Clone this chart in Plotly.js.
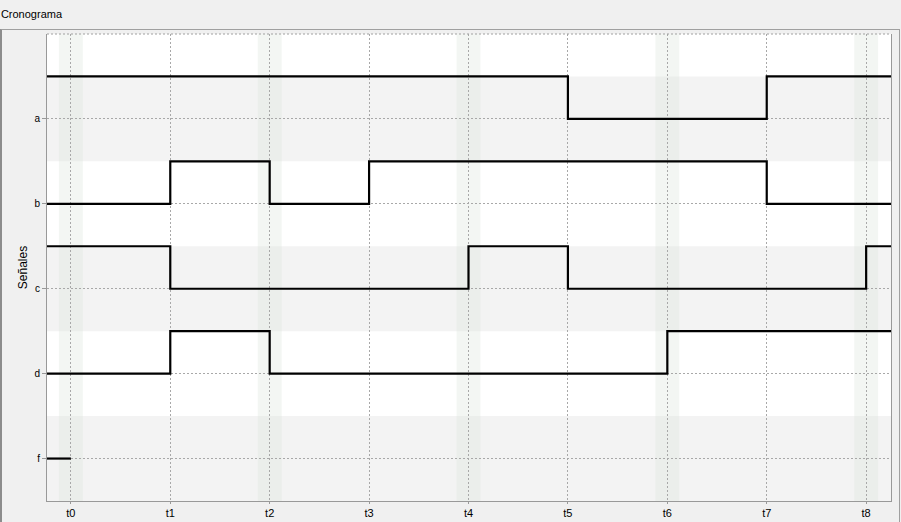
<!DOCTYPE html>
<html>
<head>
<meta charset="utf-8">
<script src="https://cdn.plot.ly/plotly-3.0.1.min.js"></script>
<style>
  html, body { margin: 0; padding: 0; background: #f0f0f0; }
  #wrap { position: relative; width: 901px; height: 522px; overflow: hidden; }
  #chart { position: absolute; left: 0; top: 0; width: 901px; height: 522px; }
  #frame { position: absolute; left: 0; top: 29px; width: 897px; height: 520px;
           border-top: 1px solid #a0a0a0; border-left: 2px solid #8c8c8c; border-right: 1px solid #a0a0a0;
           pointer-events: none; }
</style>
</head>
<body>
<div id="wrap">
  <div id="chart"></div>
  <div id="frame"></div>
</div>
<script>
// ---- data ----
const times = ["t0", "t1", "t2", "t3", "t4", "t5", "t6", "t7", "t8"];
const signalNames = ["a", "b", "c", "d", "f"];
const sigA = [1, 1, 1, 1, 1, 0, 0, 1, 1];
const sigB = [0, 1, 0, 1, 1, 1, 1, 0, 0];
const sigC = [1, 0, 0, 0, 1, 0, 0, 0, 1];
const sigD = [0, 1, 0, 0, 0, 0, 1, 1, 1];
const sigF = [0];
const signals = [sigA, sigB, sigC, sigD, sigF];

// ---- layout helpers ----
const xStart = -0.24, xEnd = 8.25;
const yMin = -0.5, yMax = 5.0;
const highOffset = 0.5;
const timeIdx = times.map((_, i) => i);
const levels = signalNames.map((_, i) => signalNames.length - 1 - i);

const traces = signals.map((vals, k) => {
  const base = levels[k];
  const xs = [xStart].concat(vals.map((_, i) => timeIdx[i]));
  const ys = [vals[0]].concat(vals).map(v => base + highOffset * v);
  if (vals.length === times.length) { xs.push(xEnd); ys.push(base + highOffset * vals[vals.length - 1]); }
  return {
    type: 'scatter', mode: 'lines', x: xs, y: ys, name: signalNames[k],
    line: { shape: 'hv', color: '#000000', width: 2.2 },
    hoverinfo: 'skip', showlegend: false, cliponaxis: false
  };
});

const shapes = [];
// horizontal row bands (alternating)
levels.forEach((lv, k) => {
  if (k % 2 === 0) {
    shapes.push({ type: 'rect', xref: 'paper', yref: 'y', x0: 0, x1: 1, y0: lv - 0.5, y1: lv + 0.5,
      fillcolor: '#f3f3f3', line: { width: 0 }, layer: 'below' });
  }
});
// vertical bands around even ticks
timeIdx.forEach((t, i) => {
  if (i % 2 === 0) {
    shapes.push({ type: 'rect', xref: 'x', yref: 'paper', x0: t - 0.12, x1: t + 0.12, y0: 0, y1: 1,
      fillcolor: 'rgba(220,228,220,0.35)', line: { width: 0 }, layer: 'below' });
  }
});
// dashed top border
shapes.push({ type: 'line', xref: 'paper', yref: 'paper', x0: 0, x1: 1, y0: 1, y1: 1,
  line: { color: '#a0a0a0', width: 1, dash: '2px,2px' } });

const gridStyle = { gridcolor: '#a8a8a8', gridwidth: 1, griddash: '2px,2px' };

const layout = {
  width: 901, height: 522,
  margin: { l: 47, r: 10, t: 34, b: 21 },
  paper_bgcolor: '#f0f0f0',
  plot_bgcolor: '#ffffff',
  title: { text: 'Cronograma', x: 0.001, xref: 'container', xanchor: 'left', y: 0.973, yref: 'container', yanchor: 'middle',
           font: { family: 'Liberation Sans, Arial, sans-serif', size: 11, color: '#000000' } },
  font: { family: 'Liberation Sans, Arial, sans-serif', size: 10, color: '#000000' },
  xaxis: Object.assign({
    range: [xStart, xEnd], tickvals: timeIdx, ticktext: times, showgrid: true, zeroline: false,
    showline: true, linecolor: '#999999', linewidth: 1, mirror: false,
    ticks: 'outside', ticklen: 2, tickcolor: '#999999',
    tickfont: { size: 11, family: 'Liberation Sans, Arial, sans-serif' }, fixedrange: true
  }, gridStyle),
  yaxis: Object.assign({
    range: [yMin, yMax], tickvals: levels, ticktext: signalNames, showgrid: true, zeroline: false,
    showline: true, linecolor: '#999999', linewidth: 1, mirror: true,
    ticks: 'outside', ticklen: 4, tickcolor: '#999999',
    tickfont: { size: 10, family: 'Liberation Sans, Arial, sans-serif' },
    title: { text: 'Señales', standoff: 4, font: { size: 12, family: 'Liberation Sans, Arial, sans-serif', color: '#000000' } },
    fixedrange: true
  }, gridStyle),
  shapes: shapes,
  showlegend: false
};

Plotly.newPlot('chart', traces, layout, { displayModeBar: false, staticPlot: true });
</script>
</body>
</html>
